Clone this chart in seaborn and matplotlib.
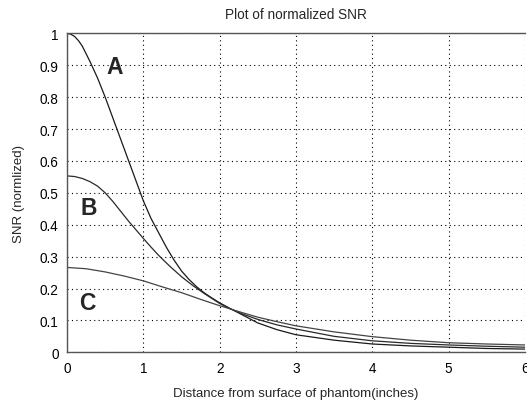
import matplotlib
matplotlib.use("Agg")
import matplotlib.pyplot as plt
import seaborn as sns
import pandas as pd

# values
x_a = [0, 0.05, 0.1, 0.15, 0.2, 0.3, 0.4, 0.5, 0.6, 0.7, 0.8, 0.9, 1.0, 1.1, 1.2, 1.3, 1.4,
       1.5, 1.6, 1.7, 1.8, 1.9, 2.0, 2.14, 2.3, 2.5, 2.75, 3.0, 3.5, 4.0, 4.5, 5.0, 5.5, 6.0]
snr_a = [1.0, 0.997, 0.99, 0.977, 0.96, 0.912, 0.86, 0.80, 0.735, 0.67, 0.605, 0.54, 0.475,
         0.42, 0.375, 0.33, 0.29, 0.255, 0.228, 0.205, 0.186, 0.17, 0.155, 0.137, 0.117, 0.092,
         0.071, 0.055, 0.038, 0.026, 0.02, 0.016, 0.012, 0.01]

x_b = [0, 0.1, 0.2, 0.3, 0.4, 0.5, 0.6, 0.7, 0.8, 0.9, 1.0, 1.1, 1.2, 1.35, 1.5, 1.65, 1.8,
       2.0, 2.14, 2.3, 2.5, 2.75, 3.0, 3.5, 4.0, 4.5, 5.0, 5.5, 6.0]
snr_b = [0.553, 0.551, 0.545, 0.535, 0.521, 0.5, 0.473, 0.443, 0.413, 0.385, 0.357, 0.33,
         0.304, 0.269, 0.237, 0.209, 0.184, 0.153, 0.136, 0.12, 0.103, 0.086, 0.073, 0.05,
         0.036, 0.028, 0.023, 0.019, 0.016]

x_c = [0, 0.25, 0.5, 0.75, 1.0, 1.25, 1.5, 1.75, 2.0, 2.14, 2.3, 2.5, 2.75, 3.0, 3.5, 4.0,
       4.5, 5.0, 5.5, 6.0]
snr_c = [0.266, 0.262, 0.252, 0.239, 0.224, 0.205, 0.187, 0.166, 0.146, 0.136, 0.124, 0.11,
         0.096, 0.083, 0.064, 0.049, 0.038, 0.03, 0.026, 0.023]

curve_names = ["A", "B", "C"]
label_pos = {"A": (0.62, 0.897), "B": (0.28, 0.455), "C": (0.27, 0.155)}

x_ticks = [0, 1, 2, 3, 4, 5, 6]
y_ticks = [0, 0.1, 0.2, 0.3, 0.4, 0.5, 0.6, 0.7, 0.8, 0.9, 1.0]
y_tick_labels = ["0", "0.1", "0.2", "0.3", "0.4", "0.5", "0.6", "0.7", "0.8", "0.9", "1"]

sns.set_style("white")
plt.rcParams["font.family"] = ["Liberation Sans", "DejaVu Sans"]

fig = plt.figure(figsize=(5.27, 4.02), dpi=100)
ax = fig.add_axes([67 / 527, (402 - 353.3) / 402, 458 / 527, 319 / 402])

for name, xs, ys, col in zip(curve_names, [x_a, x_b, x_c], [snr_a, snr_b, snr_c],
                             ["#1a1a1a", "#2a2a2a", "#444444"]):
    df = pd.DataFrame({"dist": xs, "snr": ys})
    sns.lineplot(data=df, x="dist", y="snr", ax=ax, color=col, linewidth=0.9)
    lx, ly = label_pos[name]
    ax.text(lx, ly, name, fontsize=16.5, fontweight="bold", ha="center", va="center")

ax.set_xlim(0, 6)
ax.set_ylim(0, 1)
ax.set_xticks(x_ticks)
ax.set_yticks(y_ticks)
ax.set_yticklabels(y_tick_labels)
ax.grid(True, color="black", linestyle=(0, (1, 3)), linewidth=0.8)
ax.tick_params(direction="in", length=3, labelsize=9.8, pad=6, colors="black")

for side in ["left", "bottom", "top"]:
    ax.spines[side].set_color("#555555")
    ax.spines[side].set_linewidth(1.0)
ax.spines["right"].set_visible(False)

ax.set_title("Plot of normalized SNR", fontsize=9.8, pad=11)
ax.set_xlabel("Distance from surface of phantom(inches)", fontsize=9.5, labelpad=9)
ax.set_ylabel("SNR (normlized)", fontsize=9.5, labelpad=11)

fig.savefig("out.png", dpi=100)
